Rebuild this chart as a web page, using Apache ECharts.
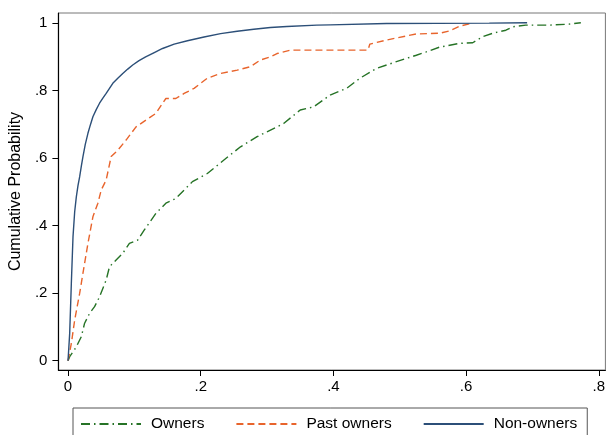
<!DOCTYPE html>
<html><head><meta charset="utf-8">
<script src="https://cdn.jsdelivr.net/npm/echarts@6/dist/echarts.min.js"></script>
<style>html,body{margin:0;padding:0;background:#fff}#c{width:608px;height:435px}</style>
</head><body><div id="c"></div>
<script>
const seriesNames = ['Owners', 'Past owners', 'Non-owners'];
const xTicks = [0, 0.2, 0.4, 0.6, 0.8];
const yTicks = [0, 0.2, 0.4, 0.6, 0.8, 1];

const ownersX = [0, 0.0025, 0.0125, 0.02, 0.025, 0.0325, 0.04, 0.0475, 0.0575, 0.0625, 0.0725, 0.0825, 0.0925, 0.105, 0.115, 0.1325, 0.1475, 0.1625, 0.1775, 0.1875, 0.21, 0.235, 0.26, 0.285, 0.325, 0.35, 0.37, 0.395, 0.42, 0.44, 0.465, 0.495, 0.525, 0.54, 0.56, 0.59, 0.61, 0.625, 0.64, 0.66, 0.67, 0.69, 0.725, 0.755, 0.773];
const ownersY = [0, 0.012, 0.041, 0.071, 0.111, 0.140, 0.160, 0.189, 0.239, 0.278, 0.298, 0.318, 0.347, 0.357, 0.387, 0.436, 0.466, 0.480, 0.510, 0.530, 0.554, 0.594, 0.633, 0.663, 0.702, 0.742, 0.751, 0.786, 0.806, 0.836, 0.865, 0.885, 0.904, 0.914, 0.928, 0.939, 0.941, 0.959, 0.969, 0.978, 0.988, 0.993, 0.993, 0.996, 1.0];

const pastX = [0, 0.005, 0.01, 0.0175, 0.0225, 0.03, 0.0375, 0.045, 0.05, 0.0575, 0.065, 0.075, 0.0875, 0.1025, 0.1175, 0.1325, 0.1425, 0.1475, 0.1625, 0.175, 0.19, 0.21, 0.23, 0.255, 0.275, 0.29, 0.305, 0.315, 0.335, 0.38, 0.452, 0.455, 0.48, 0.525, 0.56, 0.575, 0.59, 0.607, 0.61];
const pastY = [0, 0.051, 0.12, 0.199, 0.259, 0.347, 0.426, 0.466, 0.505, 0.535, 0.604, 0.623, 0.653, 0.692, 0.712, 0.732, 0.762, 0.776, 0.776, 0.791, 0.806, 0.836, 0.850, 0.860, 0.870, 0.890, 0.899, 0.909, 0.919, 0.919, 0.919, 0.937, 0.949, 0.967, 0.969, 0.976, 0.990, 0.998, 1.0];

const nonX = [0, 0.0025, 0.005, 0.0075, 0.01, 0.0125, 0.015, 0.0175, 0.02, 0.0225, 0.026, 0.03, 0.034, 0.0375, 0.0425, 0.0475, 0.0525, 0.0575, 0.0625, 0.0675, 0.075, 0.0825, 0.09, 0.0975, 0.107, 0.117, 0.13, 0.1425, 0.16, 0.18, 0.205, 0.23, 0.255, 0.28, 0.305, 0.33, 0.375, 0.395, 0.48, 0.635, 0.692];
const nonY = [0, 0.081, 0.229, 0.367, 0.44, 0.485, 0.518, 0.544, 0.575, 0.604, 0.64, 0.673, 0.70, 0.722, 0.743, 0.762, 0.777, 0.791, 0.806, 0.821, 0.836, 0.850, 0.863, 0.875, 0.888, 0.899, 0.912, 0.924, 0.937, 0.947, 0.958, 0.968, 0.975, 0.981, 0.986, 0.989, 0.993, 0.994, 0.998, 0.999, 1.0];

function pairs(xs, ys) { return xs.map((x, i) => [x, ys[i]]); }
function fmt(v) {
  if (Math.abs(v) < 1e-9) return '0';
  if (Math.abs(v - 1) < 1e-9) return '1';
  return String(+v.toFixed(2)).replace(/^0\./, '.');
}
const FONT = 'Liberation Sans, Arial, sans-serif';
const colors = ['#267326', '#e8642c', '#2c4f78'];

const chart = echarts.init(document.getElementById('c'), null, {renderer: 'canvas'});
chart.setOption({
  animation: false,
  color: colors,
  grid: {left: 57, right: 1, top: 13, bottom: 65, show: true, borderColor: '#777', borderWidth: 1, containLabel: false},
  xAxis: {
    type: 'value', min: -0.0145, max: 0.81,
    axisLine: {show: true, onZero: false, lineStyle: {color: '#000', width: 1.2}},
    axisTick: {show: true, length: 6, customValues: xTicks, lineStyle: {color: '#000'}},
    axisLabel: {customValues: xTicks, formatter: fmt, color: '#000', fontSize: 15, fontFamily: FONT, margin: 9},
    splitLine: {show: false}
  },
  yAxis: {
    type: 'value', min: -0.0275, max: 1.029,
    name: 'Cumulative Probability', nameLocation: 'middle', nameGap: 29,
    nameTextStyle: {color: '#000', fontSize: 16, fontFamily: FONT},
    axisLine: {show: true, onZero: false, lineStyle: {color: '#000', width: 1.2}},
    axisTick: {show: true, length: 6, customValues: yTicks, lineStyle: {color: '#000'}},
    axisLabel: {customValues: yTicks, formatter: fmt, color: '#000', fontSize: 15, fontFamily: FONT, margin: 11},
    splitLine: {show: false}
  },
  legend: {
    left: 73, top: 408, width: 520, height: 40,
    padding: [8, 10, 14, 7],
    borderColor: '#555', borderWidth: 1,
    itemWidth: 60, itemHeight: 10, itemGap: 31,
    itemStyle: {opacity: 0},
    textStyle: {color: '#000', fontSize: 15.5, fontFamily: FONT, padding: [0, 0, 0, 5]},
    data: seriesNames
  },
  series: [
    {name: seriesNames[0], type: 'line', symbol: 'none', data: pairs(ownersX, ownersY),
     lineStyle: {color: colors[0], width: 1.4, type: [9, 4, 1.5, 4]}},
    {name: seriesNames[1], type: 'line', symbol: 'none', data: pairs(pastX, pastY),
     lineStyle: {color: colors[1], width: 1.4, type: [7, 4]}},
    {name: seriesNames[2], type: 'line', symbol: 'none', data: pairs(nonX, nonY),
     lineStyle: {color: colors[2], width: 1.4, type: 'solid'}}
  ]
});
</script></body></html>
